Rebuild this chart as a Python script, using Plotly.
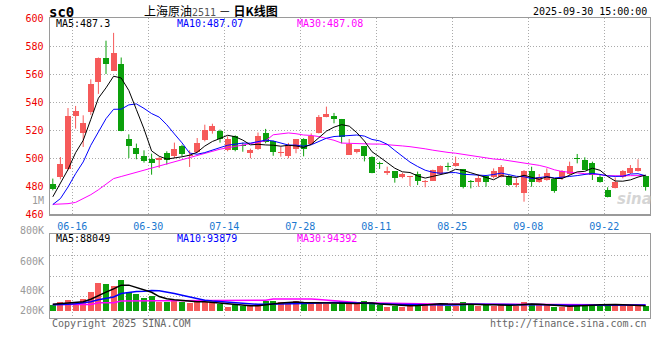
import plotly.graph_objects as go
import pandas as pd

# ---------------- data ----------------
dates = pd.bdate_range("2025-06-12", "2025-09-30")
date_labels = [d.strftime("%m-%d") for d in dates]
tick_labels = ["06-16", "06-30", "07-14", "07-28", "08-11", "08-25", "09-08", "09-22"]

opens = [481.9, 486.6, 492.6, 530.2, 518.1, 533.1, 554.5, 571.9, 562.5, 567.4,
         514.0, 507.4, 501.6, 499.7, 498.6, 503.8, 501.4, 508.8, 501.7, 504.5,
         512.8, 519.3, 519.5, 505.7, 515.7, 509.3, 503.6, 507.0, 518.0, 512.4,
         503.6, 502.0, 507.0, 513.6, 510.4, 518.3, 529.7, 530.2, 528.1, 502.6,
         504.5, 508.8, 501.0, 496.6, 489.8, 490.9, 486.4, 486.4, 488.6, 483.2,
         484.0, 488.8, 494.2, 494.5, 492.4, 483.8, 483.3, 487.4, 486.4, 486.9,
         487.4, 480.7, 475.4, 490.9, 483.3, 484.5, 485.2, 485.7, 488.8, 500.0,
         498.8, 496.9, 486.4, 477.4, 478.5, 486.4, 489.3, 491.2, 487.4]
highs = [485.5, 500.9, 535.9, 537.4, 530.7, 556.4, 572.0, 584.0, 589.6, 572.0,
         517.1, 510.5, 505.7, 503.3, 500.9, 505.0, 511.2, 509.7, 505.7, 514.5,
         524.0, 524.7, 520.5, 515.7, 516.4, 511.2, 506.9, 518.4, 521.0, 512.6,
         508.3, 511.0, 513.6, 514.3, 517.8, 530.9, 536.9, 532.4, 528.1, 513.8,
         506.4, 508.8, 501.4, 497.6, 494.0, 490.9, 489.7, 487.4, 490.5, 484.5,
         491.9, 494.9, 496.9, 501.2, 492.4, 484.5, 488.1, 488.1, 492.8, 495.2,
         488.1, 485.7, 491.6, 494.0, 488.8, 492.8, 485.2, 491.6, 497.6, 503.1,
         500.7, 497.6, 488.1, 479.3, 486.4, 491.6, 495.2, 499.3, 488.1]
lows = [477.1, 485.0, 491.4, 521.2, 508.1, 531.0, 546.0, 560.2, 562.5, 519.3,
        500.2, 499.3, 496.9, 488.3, 493.1, 495.5, 500.2, 501.6, 493.8, 503.8,
        512.1, 517.6, 511.2, 505.0, 505.0, 504.7, 500.0, 506.0, 510.7, 501.8,
        501.2, 500.0, 503.6, 501.4, 510.2, 517.8, 529.3, 525.0, 510.7, 502.6,
        503.5, 497.8, 489.3, 492.4, 488.1, 482.6, 485.7, 480.2, 480.9, 479.3,
        484.0, 488.8, 491.2, 494.0, 478.5, 478.5, 479.7, 479.7, 485.7, 486.4,
        480.2, 479.3, 469.0, 479.7, 482.6, 484.0, 475.4, 484.5, 488.1, 496.4,
        491.6, 484.5, 482.6, 472.1, 478.5, 485.7, 488.8, 490.5, 476.9]
closes = [478.3, 496.2, 530.2, 533.8, 525.5, 553.3, 571.9, 567.1, 575.3, 519.3,
          508.8, 503.3, 498.1, 496.9, 500.2, 498.6, 506.4, 503.3, 502.6, 510.9,
          520.5, 522.8, 514.0, 514.0, 505.7, 508.5, 505.9, 516.0, 511.6, 504.8,
          504.8, 509.3, 513.6, 506.4, 515.6, 529.7, 531.6, 528.0, 515.2, 510.4,
          506.4, 501.7, 489.8, 496.2, 491.2, 485.7, 488.8, 487.4, 484.0, 483.5,
          491.7, 494.7, 494.0, 496.9, 479.3, 483.4, 486.2, 483.3, 491.2, 493.5,
          480.9, 482.6, 491.2, 483.3, 486.9, 489.7, 476.9, 490.9, 494.5, 499.6,
          491.6, 488.1, 483.3, 472.6, 483.3, 490.9, 492.8, 493.3, 479.7]
volumes = [101000, 139000, 171000, 139000, 187000, 304000, 448000, 432000, 395000, 491000,
           304000, 267000, 203000, 235000, 144000, 139000, 181000, 149000, 128000, 149000,
           139000, 122000, 117000, 64000, 91000, 75000, 75000, 107000, 155000, 155000,
           139000, 117000, 160000, 117000, 139000, 139000, 117000, 107000, 155000, 107000,
           107000, 155000, 107000, 91000, 64000, 85000, 64000, 117000, 117000, 117000,
           117000, 117000, 85000, 85000, 144000, 101000, 75000, 91000, 85000, 101000,
           117000, 80000, 139000, 117000, 91000, 91000, 59000, 64000, 75000, 101000,
           101000, 117000, 101000, 101000, 101000, 75000, 75000, 101000, 75000]

# moving-average values before a full window exists
ma5_head = [472.5, 482.0, 492.0, 504.0]
ma10_head = [467.0, 471.2, 479.5, 489.0, 497.4, 509.3, 518.8, 528.3, 535.0]
ma30_head = [467.1, 467.3, 467.6, 468.5, 471.0, 474.0, 477.5, 481.5, 485.5, 487.0,
             488.5, 490.0, 492.0, 493.5, 495.0, 496.4, 497.5, 499.0, 500.5, 502.0,
             504.0, 505.5, 506.5, 507.5, 508.5, 509.5, 510.5, 511.5, 512.5]
vma5_head = [107000, 117000, 123000, 128000]
vma10_head = [101000, 101000, 107000, 117000, 133000, 149000, 181000, 203000, 224000]
vma30_head = [104000, 104000, 104000, 104000, 104000, 104000, 133000, 133000, 133000,
              160000, 163000, 165000, 165000, 165000, 165000, 165000, 165000, 165000,
              165000, 165000, 170000, 172000, 172000, 172000, 172000, 172000, 172000,
              172000, 172000]

ma_texts = ["MA5:487.3", "MA10:487.07", "MA30:487.08"]
vma_texts = ["MA5:88049", "MA10:93879", "MA30:94392"]
vol_axis_labels = ["1M", "800K", "600K", "400K", "200K"]


def moving_avg(vals, n, head):
    out = list(head)
    for i in range(len(head), len(vals)):
        out.append(sum(vals[i - n + 1:i + 1]) / n)
    return out


# ---------------- styling ----------------
W, H = 660, 360
RED, GREEN = "#f65a5a", "#0ca00c"
MONO = "DejaVu Sans Mono"
GRID = "#aaaaaa"
BORDER = "#9a9a9a"
XL, XR = 50, 649.5
MAIN_T, MAIN_B = 18.3, 214.3
VOL_T, VOL_B = 234.3, 317.7
vol_range = [-107000, 1227000]
x_range = [-0.368, 78.51]


def px(x):
    return x / W


def py(y):
    return 1 - y / H


n = len(closes)
xs = list(range(n))
up = [c >= o for o, c in zip(opens, closes)]
colors = [RED if u else GREEN for u in up]
body_base = [min(o, c) for o, c in zip(opens, closes)]
body_h = [max(abs(c - o), 0.6) for o, c in zip(opens, closes)]

fig = go.Figure()

# wicks
for flag, col in [(True, RED), (False, GREEN)]:
    wx, wy = [], []
    for i in xs:
        if up[i] == flag:
            wx += [i, i, None]
            wy += [lows[i], highs[i], None]
    fig.add_trace(go.Scatter(x=wx, y=wy, mode="lines", line=dict(color=col, width=1),
                             hoverinfo="skip", showlegend=False, xaxis="x", yaxis="y"))

# bodies
fig.add_trace(go.Bar(x=xs, y=body_h, base=body_base, width=0.8,
                     marker=dict(color=colors, line=dict(width=0)),
                     showlegend=False, xaxis="x", yaxis="y"))

# price MAs
for vals, col in [(moving_avg(closes, 30, ma30_head), "#ff00ff"),
                  (moving_avg(closes, 10, ma10_head), "#0000ff"),
                  (moving_avg(closes, 5, ma5_head), "#000000")]:
    fig.add_trace(go.Scatter(x=xs, y=vals, mode="lines", line=dict(color=col, width=1),
                             showlegend=False, xaxis="x", yaxis="y"))

# volume bars
fig.add_trace(go.Bar(x=xs, y=volumes, width=0.8,
                     marker=dict(color=colors, line=dict(width=0)),
                     showlegend=False, xaxis="x2", yaxis="y2"))

for vals, col in [(moving_avg(volumes, 30, vma30_head), "#ff00ff"),
                  (moving_avg(volumes, 10, vma10_head), "#0000ff"),
                  (moving_avg(volumes, 5, vma5_head), "#000000")]:
    fig.add_trace(go.Scatter(x=xs, y=vals, mode="lines", line=dict(color=col, width=1.5),
                             showlegend=False, xaxis="x2", yaxis="y2"))

tick_pos = [date_labels.index(t) + 0.55 for t in tick_labels]
vol_grid = [vol_range[0] + (vol_range[1] - vol_range[0]) * k / 4 for k in range(5)]

axis_common = dict(showline=True, mirror=True, linecolor=BORDER, linewidth=1.5,
                   showgrid=True, gridcolor=GRID, griddash="1px,2px", gridwidth=1,
                   zeroline=False, ticks="", fixedrange=True, automargin=False)

fig.update_layout(
    width=W, height=H, autosize=False,
    margin=dict(l=0, r=0, t=0, b=0, pad=0, autoexpand=False),
    paper_bgcolor="white", plot_bgcolor="white",
    barmode="overlay", bargap=0,
    showlegend=False,
    xaxis=dict(domain=[px(XL), px(XR)], range=x_range, anchor="y",
               tickvals=tick_pos, ticktext=tick_labels,
               tickfont=dict(family=MONO, size=10, color="#1a78d0"),
               ticklabelstandoff=2, **axis_common),
    yaxis=dict(domain=[py(MAIN_B), py(MAIN_T)], range=[460, 600], anchor="x",
               tickvals=list(range(460, 601, 20)),
               tickfont=dict(family=MONO, size=10, color="#ee0000"),
               ticklabelstandoff=3, **axis_common),
    xaxis2=dict(domain=[px(XL), px(XR)], range=x_range, anchor="y2", matches="x",
                tickvals=tick_pos, showticklabels=False, **axis_common),
    yaxis2=dict(domain=[py(VOL_B), py(VOL_T)], range=vol_range, anchor="x2",
                tickvals=vol_grid, showticklabels=False, **axis_common),
)

ann = []


def text(x, y, s, size=10, color="#000", anchor="left", family=MONO, **kw):
    ann.append(dict(x=px(x), y=py(y), xref="paper", yref="paper", text=s,
                    showarrow=False, xanchor=anchor, yanchor="middle",
                    font=dict(family=family, size=size, color=color), **kw))


text(47, 11.7, "<b>sc0</b>", size=14)
text(142, 10.5, "上海原油<span style='font-size:10px;color:#555;font-family:DejaVu Sans Mono'>2511</span>"
     " － <b>日K线图</b>", size=12, family="Noto Sans CJK SC")
text(649, 11.7, "2025-09-30 15:00:00", anchor="right")

for s, x0, col in zip(ma_texts, [54, 175, 295], ["#000", "#0000ff", "#ff00ff"]):
    text(x0, 23.5, s, color=col)
for s, x0, col in zip(vma_texts, [54, 175, 295], ["#000", "#0000ff", "#ff00ff"]):
    text(x0, 238.5, s, color=col)

for s, yy in zip(vol_axis_labels, [200, 230.7, 261.7, 290.8, 310.3]):
    text(46, yy, s, color="#9a9a9a", anchor="right")

text(50, 323, "Copyright 2025 SINA.COM", color="#666")
text(649, 323, "http://finance.sina.com.cn", color="#666", anchor="right")

text(634, 199, "<b><i>sina</i></b>", size=15, color="rgba(200,200,200,0.75)",
     anchor="center", family="DejaVu Sans")

fig.update_layout(annotations=ann)
fig.write_html(
    "out.html",
    config={"displayModeBar": False, "staticPlot": True},
    post_script="document.body.style.margin='0';document.body.style.padding='0';"
                "document.documentElement.style.overflow='hidden';",
)
